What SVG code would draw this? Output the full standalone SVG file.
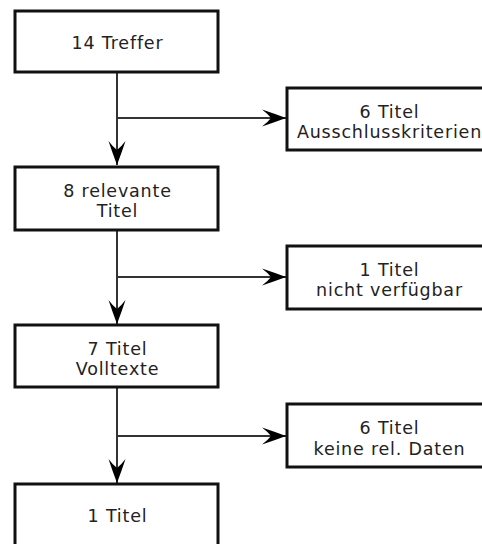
<svg xmlns="http://www.w3.org/2000/svg" width="482" height="544" viewBox="0 0 482 544">
  <style>
    .box { fill: #ffffff; stroke: #111111; stroke-width: 3; }
    .lbl { font-family: "DejaVu Sans", Verdana, sans-serif; font-size: 17.5px; letter-spacing: 0.8px; fill: #222222; text-anchor: middle; }
    .edge { fill: none; stroke: #333333; stroke-width: 2; }
  </style>
  <defs>
    <marker id="arrow" markerUnits="userSpaceOnUse" markerWidth="26" markerHeight="20" refX="24" refY="9" orient="auto">
      <path d="M24,9 Q12,4.5 0,0.5 Q6,5 9,9 Q6,13 0,17.5 Q12,13.5 24,9 Z" fill="#000000"/>
    </marker>
  </defs>
  <rect width="482" height="544" fill="#ffffff"/>

  <!-- connectors -->
  <g id="connectors">
    <path class="edge" d="M117,72 V165" marker-end="url(#arrow)"/>
    <path class="edge" d="M117,118 H286" marker-end="url(#arrow)"/>
    <path class="edge" d="M117,230 V324" marker-end="url(#arrow)"/>
    <path class="edge" d="M117,277 H286" marker-end="url(#arrow)"/>
    <path class="edge" d="M117,387 V483" marker-end="url(#arrow)"/>
    <path class="edge" d="M117,436 H286" marker-end="url(#arrow)"/>
  </g>

  <!-- main column -->
  <g id="node-treffer">
    <rect class="box" x="15" y="11" width="203" height="61"/>
    <text class="lbl" x="117.5" y="49">14 Treffer</text>
  </g>
  <g id="node-relevant">
    <rect class="box" x="15" y="167" width="203" height="63"/>
    <text class="lbl" x="117.5" y="197">8 relevante</text>
    <text class="lbl" x="117.5" y="217">Titel</text>
  </g>
  <g id="node-volltexte">
    <rect class="box" x="15" y="325" width="203" height="62"/>
    <text class="lbl" x="117.5" y="355">7 Titel</text>
    <text class="lbl" x="117.5" y="375">Volltexte</text>
  </g>
  <g id="node-final">
    <rect class="box" x="15" y="484" width="203" height="70"/>
    <text class="lbl" x="117.5" y="522">1 Titel</text>
  </g>

  <!-- exclusions -->
  <g id="node-ausschluss">
    <rect class="box" x="287" y="88" width="204" height="62"/>
    <text class="lbl" x="389.5" y="118">6 Titel</text>
    <text class="lbl" x="389.5" y="138">Ausschlusskriterien</text>
  </g>
  <g id="node-nicht-verfuegbar">
    <rect class="box" x="287" y="246" width="204" height="63"/>
    <text class="lbl" x="389.5" y="276">1 Titel</text>
    <text class="lbl" x="389.5" y="296">nicht verfügbar</text>
  </g>
  <g id="node-keine-daten">
    <rect class="box" x="287" y="404" width="204" height="63"/>
    <text class="lbl" x="389.5" y="434">6 Titel</text>
    <text class="lbl" x="389.5" y="455">keine rel. Daten</text>
  </g>
</svg>
